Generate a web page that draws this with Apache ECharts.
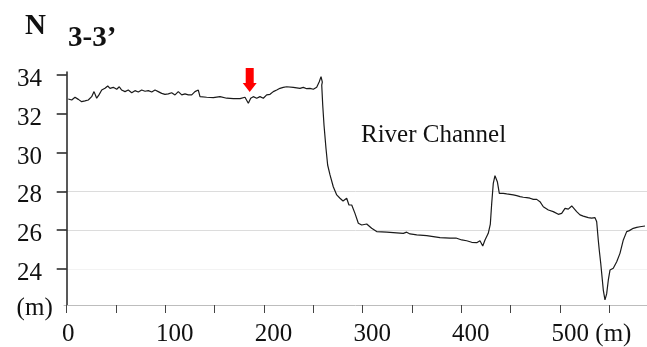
<!DOCTYPE html>
<html>
<head>
<meta charset="utf-8">
<script src="https://cdn.jsdelivr.net/npm/echarts@6/dist/echarts.min.js"></script>
<style>
html,body{margin:0;padding:0;background:#fff;}
#profile{width:647px;height:347px;}
</style>
</head>
<body>
<div id="profile"></div>
<script>
// 剖面 3-3' 高程 (m) 与 距离 (m)
var distance = [1.6,5.1,8.4,11.8,15.2,18.5,21.9,25.3,27.7,30.4,32.7,35.5,38.8,41.6,43.9,47.2,50.7,53.3,55.7,59.1,
	62.4,65.9,69.2,72.6,76.0,79.4,82.7,86.2,89.5,92.8,96.3,99.6,103.0,106.4,109.8,113.1,116.6,119.9,123.3,126.7,
	130.0,133.4,135.1,141.9,148.6,155.4,162.2,168.9,175.7,180.7,184.1,186.5,189.1,192.6,195.9,199.3,202.7,206.1,209.4,212.9,
	216.2,219.5,223.0,229.7,236.5,239.8,243.3,246.6,250.0,253.4,256.0,257.8,259.1,
	258.5,259.5,260.8,262.8,264.5,266.9,270.2,273.7,277.0,280.1,283.8,286.1,288.9,292.2,295.6,299.0,304.1,309.1,314.2,
	324.4,331.0,341.2,344.6,348.0,354.8,364.9,371.6,378.4,388.5,394.6,400.4,405.4,410.5,415.6,418.9,421.7,424.0,427.3,429.4,
	430.8,432.4,434.1,436.5,438.5,442.5,446.0,449.3,452.7,456.1,459.5,462.8,466.3,469.6,473.0,476.4,479.7,481.5,483.1,484.8,
	488.2,489.9,493.2,494.9,498.3,501.7,505.1,508.4,511.9,513.5,516.9,520.3,523.6,525.3,528.7,532.1,535.5,537.2,538.8,539.8,
	541.3,543.9,545.6,547.3,549.0,550.7,554.0,557.5,560.8,564.2,567.6,570.3,574.3,577.8,581.1,586.2];
var elevation = [32.76,32.71,32.85,32.74,32.62,32.66,32.71,32.88,33.14,32.80,32.97,33.22,33.31,33.43,33.31,33.36,33.26,33.39,33.22,33.14,
	33.22,33.08,33.19,33.12,33.22,33.16,33.19,33.12,33.22,33.14,33.05,33.00,33.02,33.08,32.97,33.14,32.97,33.02,32.97,32.97,
	33.14,33.22,32.88,32.85,32.83,32.88,32.80,32.78,32.78,32.85,32.54,32.80,32.88,32.80,32.88,32.80,32.97,33.00,33.14,33.22,
	33.31,33.36,33.39,33.36,33.31,33.36,33.29,33.31,33.26,33.36,33.65,33.91,33.63,
	33.48,32.45,31.42,30.22,29.36,28.85,28.24,27.82,27.65,27.51,27.65,27.30,27.30,26.87,26.36,26.27,26.32,26.10,25.93,
	25.90,25.88,25.84,25.90,25.81,25.76,25.72,25.67,25.62,25.59,25.60,25.50,25.46,25.38,25.36,25.46,25.19,25.50,25.84,26.32,
	27.39,28.42,28.81,28.50,27.90,27.90,27.87,27.85,27.82,27.78,27.73,27.70,27.68,27.65,27.59,27.59,27.47,27.39,27.21,27.13,
	27.04,27.08,26.96,26.96,26.82,26.87,27.13,27.09,27.25,27.29,26.96,26.79,26.73,26.75,26.65,26.62,26.65,26.44,25.50,24.98,
	24.30,22.92,22.41,22.72,23.44,23.95,24.04,24.38,24.81,25.50,25.93,25.98,26.10,26.15,26.18,26.22];
var xTicks = [0,50,100,150,200,250,300,350,400,450,500,550];
var xLabels = [0,100,200,300,400,500];
var yTicks = [24,26,28,30,32,34];
var arrowAt = [185.5, 33.12]; //红色箭头位置

var font = 'Liberation Serif';
var myChart = echarts.init(document.getElementById('profile'));

var lineData = [];
for (var i = 0; i < distance.length; i++) {
	lineData.push([distance[i], elevation[i]]);
}

var option = {
	backgroundColor: '#fff',
	animation: false,
	title: [
		{text: 'N', left: 20, top: 7, textStyle: {fontFamily: font, fontSize: 29, fontWeight: 'bold', color: '#111'}},
		{text: '3-3\u2019', left: 63, top: 19, textStyle: {fontFamily: font, fontSize: 29, fontWeight: 'bold', color: '#111'}},
		{text: 'River Channel', left: 356, top: 118, textStyle: {fontFamily: font, fontSize: 25, fontWeight: 'normal', color: '#111'}}
	],
	grid: {left: 64, right: 0, top: 72, bottom: 42},
	xAxis: {
		type: 'value',
		min: -2.74,
		max: 588.2,
		axisLine: {show: true, onZero: false, lineStyle: {color: '#bdbdbd', width: 1}},
		axisTick: {show: true, customValues: xTicks, length: 8, lineStyle: {color: '#444'}},
		splitLine: {show: false},
		axisLabel: {
			customValues: xLabels,
			margin: 17,
			fontFamily: font,
			fontSize: 25,
			color: '#111',
			formatter: function (v) {
				if (v === 0) return '{a|0}';
				if (v === 500) return '{c|500 (m)}';
				return '{b|' + v + '}';
			},
			rich: {
				a: {fontFamily: font, fontSize: 25, color: '#111', padding: [0, 0, 0, 3]},
				b: {fontFamily: font, fontSize: 25, color: '#111', padding: [0, 0, 0, 19]},
				c: {fontFamily: font, fontSize: 25, color: '#111', padding: [0, 0, 0, 63]}
			}
		}
	},
	yAxis: {
		type: 'value',
		min: 22.15,
		max: 34.15,
		splitNumber: 6,
		name: '(m)',
		nameLocation: 'start',
		nameGap: 3,
		nameTextStyle: {fontFamily: font, fontSize: 25, color: '#111', align: 'right', verticalAlign: 'middle', padding: [0, 14, 0, 0]},
		axisLine: {show: true, lineStyle: {color: '#222', width: 1.5}},
		axisTick: {show: true, inside: false, customValues: yTicks, length: 10, lineStyle: {color: '#222', width: 1.5}},
		axisLabel: {
			customValues: yTicks,
			margin: 22,
			color: '#111',
			formatter: function (v) { return '{d|' + v + '}'; },
			rich: {d: {fontFamily: font, fontSize: 25, color: '#111', padding: [9, 0, 0, 0]}}
		},
		splitLine: {
			show: true,
			lineStyle: {color: ['#f3f3f3', '#dcdcdc', '#dcdcdc', 'rgba(0,0,0,0)', 'rgba(0,0,0,0)', 'rgba(0,0,0,0)', 'rgba(0,0,0,0)', 'rgba(0,0,0,0)'], width: 1}
		}
	},
	series: [{
		type: 'line',
		data: lineData,
		showSymbol: false,
		smooth: false,
		lineStyle: {color: '#1a1a1a', width: 1.2},
		markPoint: {
			silent: true,
			symbol: 'path://M3,0 L11,0 L11,15 L14,15 L7,24 L0,15 L3,15 Z',
			symbolSize: [14, 24],
			symbolOffset: [0, '-50%'],
			itemStyle: {color: '#ff0000'},
			label: {show: false},
			data: [{coord: arrowAt}]
		}
	}]
};
myChart.setOption(option);
</script>
</body>
</html>
